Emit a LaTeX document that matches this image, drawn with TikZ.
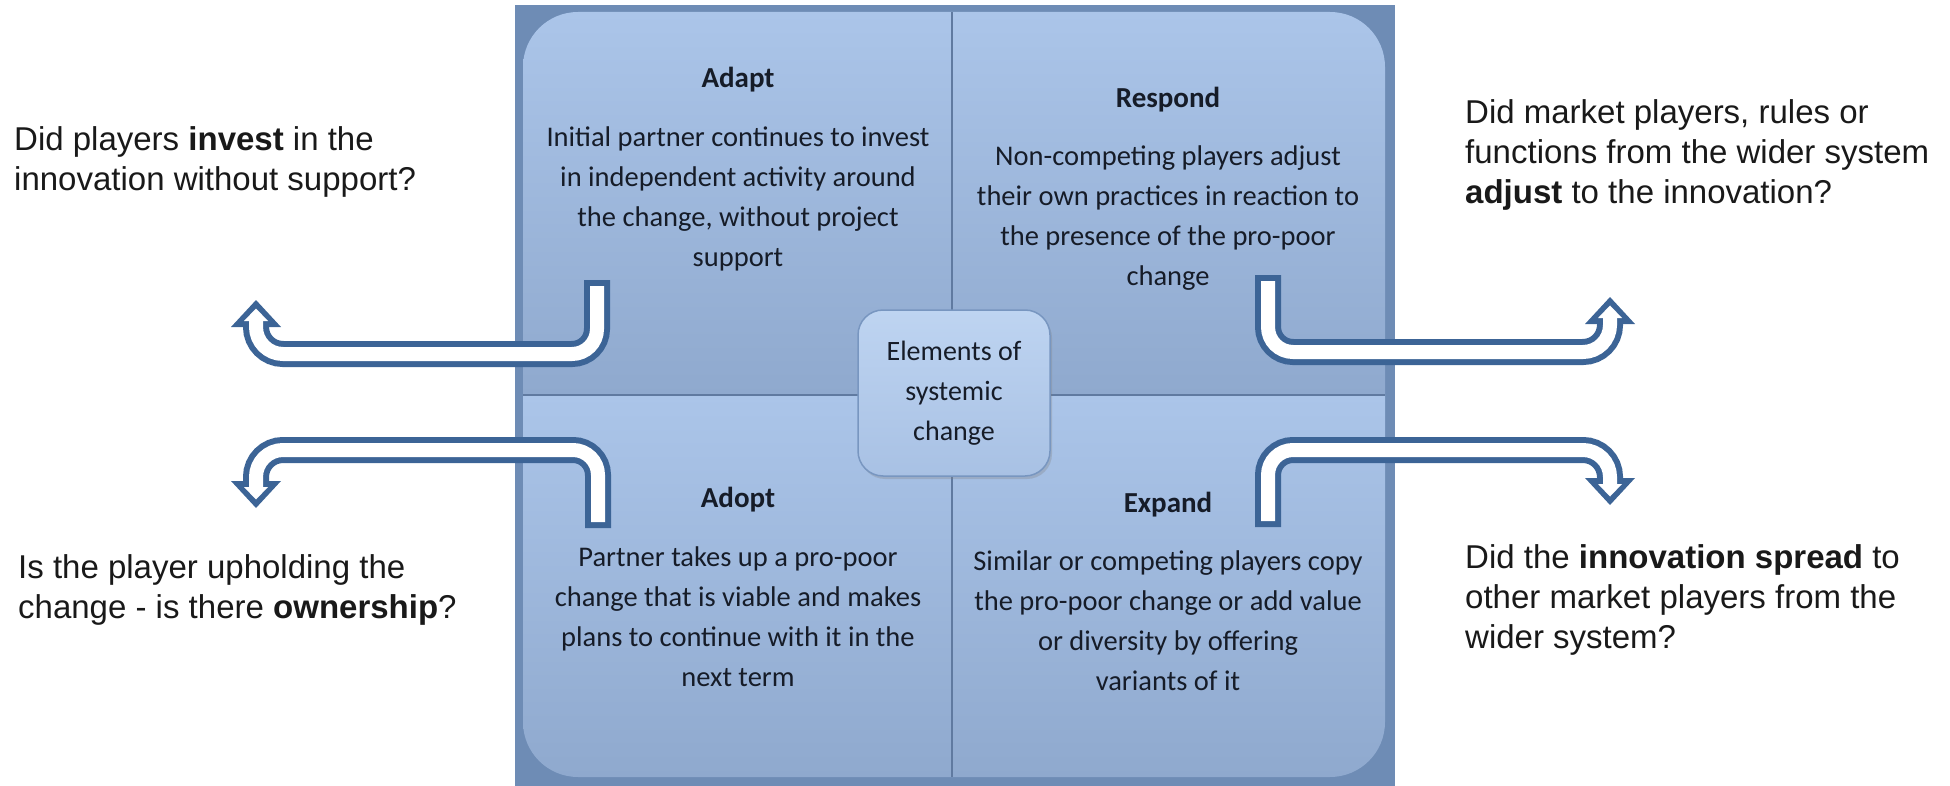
\documentclass[tikz,border=0pt]{standalone}
\usepackage{fontspec}
\setmainfont{Carlito}
\newfontfamily\arialf{Liberation Sans}
\usetikzlibrary{shadows}
\definecolor{framec}{RGB}{110,140,181}
\definecolor{qtop}{RGB}{171,197,233}
\definecolor{qbot}{RGB}{143,169,206}
\definecolor{divc}{RGB}{96,122,160}
\definecolor{adark}{RGB}{60,100,150}
\definecolor{ctop}{RGB}{190,212,241}
\definecolor{cbot}{RGB}{168,193,228}
\definecolor{cbord}{RGB}{120,150,192}
\definecolor{qtext}{RGB}{22,28,40}
\definecolor{stext}{RGB}{25,25,25}
\tikzset{
 quadfill/.style={top color=qtop, bottom color=qbot},
 qhead/.style={font=\fontsize{29}{40}\selectfont\bfseries, text=qtext, inner sep=0},
 qbody/.style={font=\fontsize{28.5}{40}\selectfont, text=qtext, align=center, inner sep=0},
 sidetext/.style={font=\arialf\fontsize{33}{40}\selectfont, text=stext, align=left, inner sep=0, anchor=west},
 armout/.style={draw=adark, line width=26pt},
 armin/.style={draw=white, line width=14pt, shorten <=6pt},
 headout/.pic={\fill[adark] (0,0) -- (25,27) -- (-25,27) -- cycle;},
 headin/.pic={\fill[white] (0,8.5) -- (12,21) -- (-12,21) -- cycle;},
}
\newcommand\bentarrow[3]{%
  \draw[armout] #1;
  \pic[rotate=#3] at #2 {headout};
  \draw[armin] #1;
  \pic[rotate=#3] at #2 {headin};
}
\begin{document}
\begin{tikzpicture}[x=1pt,y=-1pt]
\useasboundingbox (0,0) rectangle (1950,786);
% frame
\fill[framec] (515,5) rectangle (1395,786);
% quadrants
\path[quadfill] (952,12) -- (578,12) .. controls (547.6,12) and (523,36.6) .. (523,67) -- (523,395) -- (952,395) -- cycle;
\path[quadfill] (952,12) -- (1330,12) .. controls (1360.4,12) and (1385,36.6) .. (1385,67) -- (1385,395) -- (952,395) -- cycle;
\path[quadfill] (523,395) -- (523,722) .. controls (523,752.4) and (547.6,777) .. (578,777) -- (952,777) -- (952,395) -- cycle;
\path[quadfill] (952,395) -- (1385,395) -- (1385,722) .. controls (1385,752.4) and (1360.4,777) .. (1330,777) -- (952,777) -- cycle;
\draw[divc, line width=2pt] (952,12) -- (952,777);
\draw[divc, line width=2pt] (523,395) -- (1385,395);
% quadrant texts
\node[qhead] (hAdapt) at (738,80) {Adapt};
\node[qbody] (bAdapt) at (738,199) {Initial partner continues to invest\\in independent activity around\\the change, without project\\support};
\node[qhead] (hRespond) at (1168,100) {Respond};
\node[qbody] (bRespond) at (1168,218) {Non-competing players adjust\\their own practices in reaction to\\the presence of the pro-poor\\change};
\node[qhead] (hAdopt) at (738,500) {Adopt};
\node[qbody] (bAdopt) at (738,617) {Partner takes up a pro-poor\\change that is viable and makes\\plans to continue with it in the\\next term};
\node[qhead] (hExpand) at (1168,505) {Expand};
\node[qbody] (bExpand) at (1168,621) {Similar or competing players copy\\the pro-poor change or add value\\or diversity by offering\\variants of it};
% arrows
\coordinate (tlTip) at (256,300);
\coordinate (blTip) at (256,508);
\coordinate (trTip) at (1610,297);
\coordinate (brTip) at (1610,505);
\bentarrow{(597,280) -- (597,329) .. controls (597,342.8) and (585.8,354) .. (572,354) -- (283,354) .. controls (268.1,354) and (256,341.9) .. (256,327) -- (256,318)}{(tlTip)}{0}
\bentarrow{(598,528) -- (598,475) .. controls (598,461.2) and (586.8,450) .. (573,450) -- (283,450) .. controls (268.1,450) and (256,462.1) .. (256,477) -- (256,490)}{(blTip)}{180}
\bentarrow{(1268,275) -- (1268,327) .. controls (1268,340.8) and (1279.2,352) .. (1293,352) -- (1583,352) .. controls (1597.9,352) and (1610,339.9) .. (1610,325) -- (1610,315)}{(trTip)}{0}
\bentarrow{(1268,527) -- (1268,475) .. controls (1268,461.2) and (1279.2,450) .. (1293,450) -- (1583,450) .. controls (1597.9,450) and (1610,462.1) .. (1610,477) -- (1610,487)}{(brTip)}{180}
% centre box
\node[draw=cbord, line width=1.5pt, rounded corners=25pt, top color=ctop, bottom color=cbot,
      minimum width=192pt, minimum height=166pt,
      drop shadow={shadow xshift=2pt, shadow yshift=-3pt, opacity=0.3},
      font=\fontsize{28}{40}\selectfont, text=qtext, align=center, inner sep=0] (centre) at (954,393) {Elements of\\systemic\\change};
% side questions
\node[sidetext] (qLT) at (14,162) {Did players \textbf{invest} in the\\innovation without support?};
\node[sidetext] (qLB) at (18,590) {Is the player upholding the\\change - is there \textbf{ownership}?};
\node[sidetext] (qRT) at (1465,155) {Did market players, rules or\\functions from the wider system\\\textbf{adjust} to the innovation?};
\node[sidetext] (qRB) at (1465,600) {Did the \textbf{innovation spread} to\\other market players from the\\wider system?};
\end{tikzpicture}
\end{document}
